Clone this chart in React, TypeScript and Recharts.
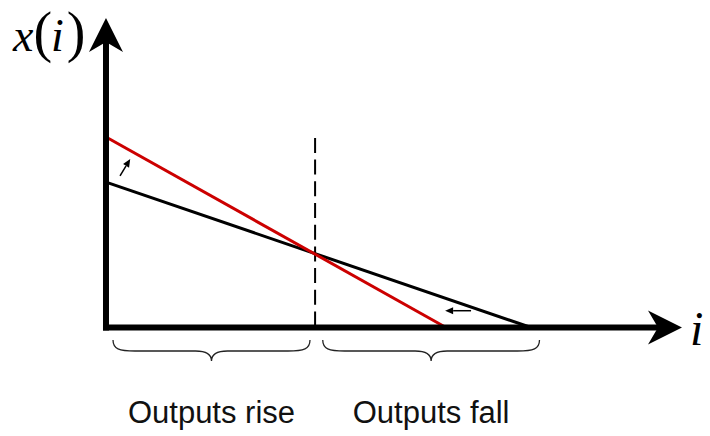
import { LineChart, Line, XAxis, YAxis, ReferenceLine } from "recharts";

// Chart frame: px per unit is 42.5 horizontally and 48 vertically, origin at (106, 327.5)
const WIDTH = 710;
const HEIGHT = 436;
const X_DOMAIN = [-2.494, 14.212];
const Y_DOMAIN = [-2.26, 6.823];

// Axis extents (arrow tips)
const X_TIP = 13.553;
const Y_TIP = 6.448;

// The two output curves x(i)
const BLACK_LINE = [
  { x: 0, y: 3.03 },
  { x: 10, y: 0 },
];
const RED_LINE = [
  { x: 0, y: 3.97 },
  { x: 8, y: 0 },
];

// Dashed divider where the curves cross
const DIVIDE_X = 4.92;
const DIVIDE_TOP = 3.95;

// Small shift arrows (from -> to)
const SHIFT_ARROWS = [
  { x1: 0.33, y1: 3.16, x2: 0.57, y2: 3.51 },
  { x1: 8.59, y1: 0.35, x2: 7.98, y2: 0.35 },
];

// Braces under the i axis
const BRACE_Y = -0.26;
const BRACES = [
  { label: "Outputs rise", from: 0.165, to: 4.8 },
  { label: "Outputs fall", from: 5.1, to: 10.2 },
];

const SANS = "'Liberation Sans', Arial, sans-serif";
const SERIF = "'Liberation Serif', 'Times New Roman', serif";

function arrowHead(x1: number, y1: number, x2: number, y2: number, len: number, half: number, notch: number) {
  const l = Math.hypot(x2 - x1, y2 - y1) || 1;
  const dx = (x2 - x1) / l;
  const dy = (y2 - y1) / l;
  const nx = -dy;
  const ny = dx;
  const bx = x2 - dx * len;
  const by = y2 - dy * len;
  const cx = x2 - dx * (len - notch);
  const cy = y2 - dy * (len - notch);
  return {
    points: `${x2},${y2} ${bx + nx * half},${by + ny * half} ${cx},${cy} ${bx - nx * half},${by - ny * half}`,
    neck: { x: cx, y: cy },
  };
}

function AxisArrow(props: any) {
  const { x1, y1, x2, y2, kind } = props;
  const head = arrowHead(x1, y1, x2, y2, 34, 17, 10);
  return (
    <g>
      <line x1={x1} y1={y1} x2={head.neck.x} y2={head.neck.y} stroke="#000" strokeWidth={6} strokeLinecap="square" />
      <polygon points={head.points} fill="#000" />
      {kind === "y" ? (
        <text x={x2 - 93} y={y2 + 33} fill="#000" fontFamily={SERIF}>
          <tspan fontStyle="italic" fontSize={46}>x</tspan>
          <tspan fontSize={56}>(</tspan>
          <tspan fontStyle="italic" fontSize={46} dx={-1}>i</tspan>
          <tspan fontSize={56} dx={3}>)</tspan>
        </text>
      ) : (
        <text x={x2 + 8} y={y2 + 17} fill="#000" fontFamily={SERIF} fontStyle="italic" fontSize={48}>
          i
        </text>
      )}
    </g>
  );
}

function SmallArrow(props: any) {
  const { x1, y1, x2, y2 } = props;
  const head = arrowHead(x1, y1, x2, y2, 8, 3.5, 0);
  return (
    <g>
      <line x1={x1} y1={y1} x2={head.neck.x} y2={head.neck.y} stroke="#000" strokeWidth={1.5} />
      <polygon points={head.points} fill="#000" />
    </g>
  );
}

function Brace(props: any) {
  const { x1, y1, x2, label } = props;
  const y0 = y1;
  const m = (x1 + x2) / 2;
  const h1 = 11;
  const h2 = 21;
  const d = [
    `M${x1},${y0}`,
    `C${x1},${y0 + h1 * 0.8} ${x1 + 6},${y0 + h1} ${x1 + 22},${y0 + h1}`,
    `L${m - 16},${y0 + h1}`,
    `C${m - 5},${y0 + h1} ${m},${y0 + h1 + 3} ${m},${y0 + h2}`,
    `C${m},${y0 + h1 + 3} ${m + 5},${y0 + h1} ${m + 16},${y0 + h1}`,
    `L${x2 - 22},${y0 + h1}`,
    `C${x2 - 6},${y0 + h1} ${x2},${y0 + h1 * 0.8} ${x2},${y0}`,
  ].join(" ");
  return (
    <g>
      <path d={d} fill="none" stroke="#222" strokeWidth={1.3} />
      <text x={m} y={y0 + 83} textAnchor="middle" fontFamily={SANS} fontSize={31} fill="#111">
        {label}
      </text>
    </g>
  );
}

export default function App() {
  return (
    <div style={{ position: "absolute", left: 0, top: 0, background: "#fff" }}>
      <LineChart width={WIDTH} height={HEIGHT} margin={{ top: 0, right: 0, bottom: 0, left: 0 }}>
        <XAxis type="number" dataKey="x" domain={X_DOMAIN} allowDataOverflow hide />
        <YAxis type="number" domain={Y_DOMAIN} allowDataOverflow hide />

        {/* divider */}
        <ReferenceLine
          segment={[
            { x: DIVIDE_X, y: DIVIDE_TOP },
            { x: DIVIDE_X, y: 0 },
          ]}
          stroke="#000"
          strokeWidth={2}
          strokeDasharray="15 6.7"
        />

        <Line
          data={BLACK_LINE}
          dataKey="y"
          stroke="#000"
          strokeWidth={3}
          dot={false}
          activeDot={false}
          isAnimationActive={false}
        />
        <Line
          data={RED_LINE}
          dataKey="y"
          stroke="#cc0000"
          strokeWidth={3}
          dot={false}
          activeDot={false}
          isAnimationActive={false}
        />

        {/* axes */}
        <ReferenceLine
          segment={[
            { x: 0, y: 0 },
            { x: X_TIP, y: 0 },
          ]}
          shape={(p: any) => <AxisArrow {...p} kind="x" />}
        />
        <ReferenceLine
          segment={[
            { x: 0, y: 0 },
            { x: 0, y: Y_TIP },
          ]}
          shape={(p: any) => <AxisArrow {...p} kind="y" />}
        />

        {SHIFT_ARROWS.map((a, i) => (
          <ReferenceLine
            key={`arrow-${i}`}
            segment={[
              { x: a.x1, y: a.y1 },
              { x: a.x2, y: a.y2 },
            ]}
            shape={(p: any) => <SmallArrow {...p} />}
          />
        ))}

        {BRACES.map((b) => (
          <ReferenceLine
            key={b.label}
            segment={[
              { x: b.from, y: BRACE_Y },
              { x: b.to, y: BRACE_Y },
            ]}
            shape={(p: any) => <Brace {...p} label={b.label} />}
          />
        ))}
      </LineChart>
    </div>
  );
}
